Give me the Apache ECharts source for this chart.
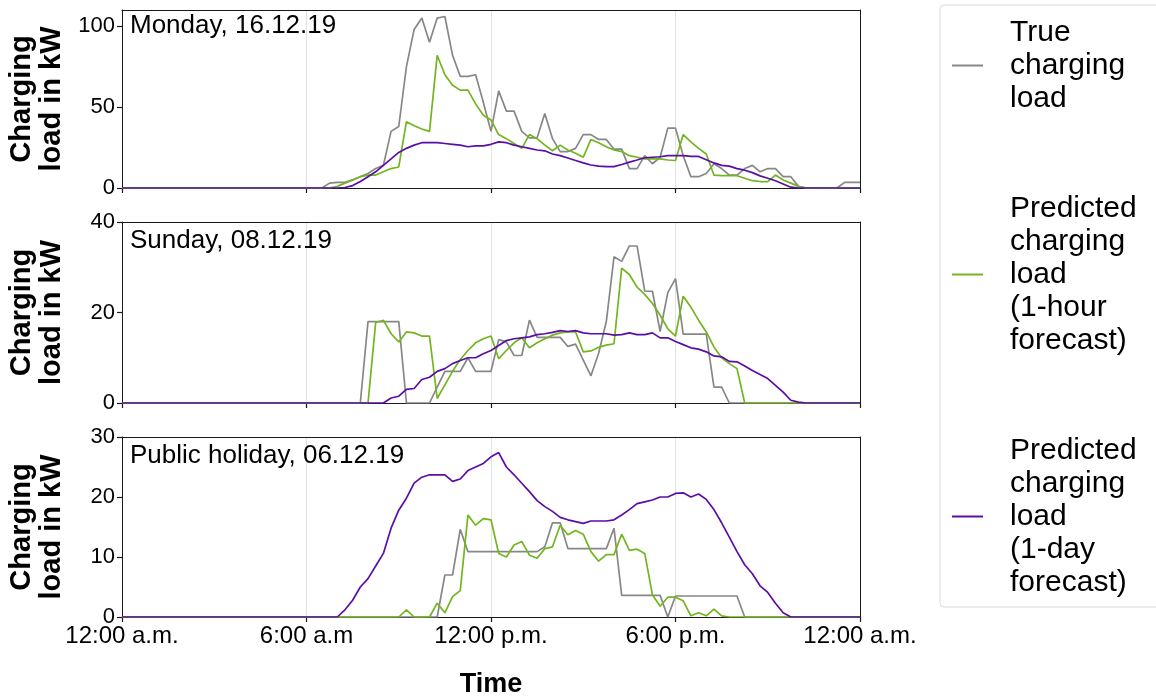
<!DOCTYPE html>
<html>
<head>
<meta charset="utf-8">
<script src="https://cdn.jsdelivr.net/npm/echarts@6/dist/echarts.min.js"></script>
<style>
html,body{margin:0;padding:0;background:#fff;}
#chart{width:1156px;height:697px;}
</style>
</head>
<body>
<div id="chart"></div>
<script>
// time step of the samples (hours), 97 samples from 0:00 to 24:00
const stepHours = 0.25;
const xTickLabels = ['12:00 a.m.', '6:00 a.m', '12:00 p.m.', '6:00 p.m.', '12:00 a.m.'];
const panelTitles = ['Monday, 16.12.19', 'Sunday, 08.12.19', 'Public holiday, 06.12.19'];
const seriesNames = ['True charging load', 'Predicted charging load (1-hour forecast)', 'Predicted charging load (1-day forecast)'];
const legendLabels = ['True\ncharging\nload', 'Predicted\ncharging\nload\n(1-hour\nforecast)', 'Predicted\ncharging\nload\n(1-day\nforecast)'];
const yMax = [110, 40, 30];
const yTicks = [[0, 50, 100], [0, 20, 40], [0, 10, 20, 30]];

// Monday, 16.12.19
const monTrue = [0,0,0,0,0,0,0,0,0,0,0,0,0,0,0,0,0,0,0,0,0,0,0,0,0,0,0,
  3,3.5,3.5,5,7,9,12,14,35,38,75,98,105,90,105,106,82,69,69,70,53,35,60,47.5,47.5,35,31,31,46,30.5,22.5,22.5,24.5,
  33,33,30,30,24,24,12,12,20,15,19,37,37,20,7,7,9,15,12,8,8,12,14,10,12,12,7,7,1,
  0,0,0,0,0,3.5,3.5,3.5];
const monHour = [0,0,0,0,0,0,0,0,0,0,0,0,0,0,0,0,0,0,0,0,0,0,0,0,0,0,0,0,
  1,3,5,7,8,8,10,12,13,41,38.5,36.5,35,82,70,63.5,60.5,60.5,52,45,42,33,30.5,27.5,24.5,33,30.5,26.5,23,26.5,23.5,21.5,
  19,30,28,25.5,23.5,22.5,20,19,18,18,18,17.3,17,33,28.5,24.5,21,8,7.6,7.6,7.6,6,4.5,4,4,8,5,3,1,
  0,0,0,0,0,0,0,0];
const monDay = [0,0,0,0,0,0,0,0,0,0,0,0,0,0,0,0,0,0,0,0,0,0,0,0,0,0,0,0,0,
  0.3,1.5,4,7,10,14,18,22,24.5,26.5,28,28,28,27.5,27,26.5,25.5,26,26,27,28.5,28,26.5,25.5,24.5,23.5,23,
  21,20,18.5,17,15.5,14.2,13.5,13.2,13.2,14.5,16,17.3,18.7,19,19.3,20,20,20,19.5,19.5,17.5,15.5,14,13.5,12,11,9.5,7.5,6,4.5,2.5,0.5,
  0,0,0,0,0,0,0,0,0];

// Sunday, 08.12.19
const sunTrue = [0,0,0,0,0,0,0,0,0,0,0,0,0,0,0,0,0,0,0,0,0,0,0,0,0,0,0,0,0,0,0,0,
  18,18,18,18,18,0,0,0,0,3.5,7,7,7,10,7,7,7,14,13.5,10.5,10.5,18.3,14.5,14.5,14.5,14.5,12.5,13,9.5,6,11,18,
  32.3,31.3,34.7,34.7,24.7,24.7,15.8,24.4,27.5,15.2,15.2,15.2,15.2,3.5,3.5,
  0,0,0,0,0,0,0,0,0,0,0,0,0,0,0,0,0,0];
const sunHour = [0,0,0,0,0,0,0,0,0,0,0,0,0,0,0,0,0,0,0,0,0,0,0,0,0,0,0,0,0,0,0,0,0,
  17.8,18.3,15.3,13.5,15.7,15.5,14.8,14.8,1,4,7,9.6,11.6,13.3,14.2,14.8,9.8,11.6,13.3,14.4,12.2,13.3,14.2,15,15.5,15.7,15.7,
  11.3,11.5,12.3,12.8,13.1,29.8,28.4,25.6,24,22,19.4,16.4,14.8,23.6,21.2,18.3,15.7,12.4,10,8.7,7.6,
  0,0,0,0,0,0,0,0,0,0,0,0,0,0,0,0];
const sunDay = [0,0,0,0,0,0,0,0,0,0,0,0,0,0,0,0,0,0,0,0,0,0,0,0,0,0,0,0,0,0,0,0,0,0,0,
  1.1,1.5,3,3.2,5.2,5.7,7,7.6,8.7,9.4,10,10,10.9,11.6,12.7,13.8,14.2,14.4,14.6,15.1,15.3,15.6,16,15.8,16,
  15.5,15.3,15.3,15.3,15,15.1,15.5,15.1,15.1,15.5,14.4,14.4,13.6,12.9,12.2,11.9,11.3,10.4,10.2,9.2,9.1,8.2,7.2,6.3,5.4,3.9,2.4,0.6,0.2,
  0,0,0,0,0,0,0,0];

// Public holiday, 06.12.19
const holTrue = [0,0,0,0,0,0,0,0,0,0,0,0,0,0,0,0,0,0,0,0,0,0,0,0,0,0,0,0,0,0,0,0,0,0,0,0,0,0,0,0,0,0,
  7,7,14.6,10.9,10.9,10.9,10.9,10.9,10.9,10.9,10.9,10.9,10.9,11.7,15.7,15.7,11.4,11.4,11.4,11.4,11.4,11.4,
  14.8,3.6,3.6,3.6,3.6,3.6,3.6,0,3.5,3.5,3.5,3.5,3.5,3.5,3.5,3.5,3.5,
  0,0,0,0,0,0,0,0,0,0,0,0,0,0,0,0];
const holHour = [0,0,0,0,0,0,0,0,0,0,0,0,0,0,0,0,0,0,0,0,0,0,0,0,0,0,0,0,0,0,0,0,0,0,0,0,0,
  1.2,0,0,0,2.3,0.7,3.4,4.4,17,15.3,16.4,16.2,10.6,10,12,12.6,10.3,9.8,11.4,11.7,15.3,13.7,14.4,
  13.8,10.9,9.3,10.4,10.4,13.8,11.1,11.3,10.6,3.7,1.8,3.3,3.3,2.7,0.2,0.7,0.2,1.3,0.2,
  0,0,0,0,0,0,0,0,0,0,0,0,0,0,0,0,0,0];
const holDay = [0,0,0,0,0,0,0,0,0,0,0,0,0,0,0,0,0,0,0,0,0,0,0,0,0,0,0,0,0,
  1.2,2.8,5,6.4,8.5,10.6,14.8,17.8,19.8,22.3,23.3,23.7,23.7,23.7,22.6,23,24.4,25,25.6,26.7,27.4,25,23.7,22.3,20.9,19.4,18.4,17.6,16.6,16.2,15.9,
  15.6,16,16,16,16.2,17,17.9,18.9,19.2,19.5,20,20,20.6,20.7,20,20.5,19.6,17.9,15.7,13.3,10.9,8.7,7.2,5.2,4.1,2.3,0.7,
  0,0,0,0,0,0,0,0,0,0];

const panels = [[monTrue, monHour, monDay], [sunTrue, sunHour, sunDay], [holTrue, holHour, holDay]];
const colors = ['#878787', '#72b51f', '#5b0ea6'];

const FONT = 'Liberation Sans, Arial, sans-serif';
const gridDefs = [
  {left: 122, width: 738, top: 10, height: 178},
  {left: 122, width: 738, top: 222, height: 181},
  {left: 122, width: 738, top: 437, height: 180}
];
const titleCenters = [27, 242, 457];

const toPairs = arr => arr.map((v, i) => [i * stepHours, v]);
const spine = {show: true, onZero: false, lineStyle: {color: '#1a1a1a', width: 1}};

const xMain = gridDefs.map((g, k) => ({
  type: 'value', gridIndex: k, min: 0, max: 24, interval: 6, position: 'bottom',
  axisLine: spine,
  axisTick: {show: true, inside: false, length: 5, lineStyle: {color: '#1a1a1a', width: 1.2}},
  splitLine: {show: true, lineStyle: {color: '#e2e2e2', width: 1}},
  axisLabel: {
    show: k === 2, margin: 7, fontFamily: FONT, fontSize: 24, color: '#000',
    formatter: v => xTickLabels[Math.round(v / 6)],
    showMinLabel: true, showMaxLabel: true
  },
  name: k === 2 ? 'Time' : '',
  nameLocation: 'middle', nameGap: 54,
  nameTextStyle: {fontFamily: FONT, fontSize: 27, fontWeight: 'bold', color: '#000'}
}));
const xTop = gridDefs.map((g, k) => ({
  type: 'value', gridIndex: k, min: 0, max: 24, position: 'top',
  axisLine: spine, axisTick: {show: false}, axisLabel: {show: false}, splitLine: {show: false}
}));
const yMain = gridDefs.map((g, k) => ({
  type: 'value', gridIndex: k, min: 0, max: yMax[k], position: 'left',
  axisLine: spine,
  axisTick: {show: true, length: 5, lineStyle: {color: '#1a1a1a', width: 1.2}, customValues: yTicks[k]},
  splitLine: {show: false},
  axisLabel: {margin: 7, fontFamily: FONT, fontSize: 22, color: '#000', customValues: yTicks[k]},
  name: 'Charging\nload in kW',
  nameLocation: 'middle', nameGap: 55, nameRotate: 90,
  nameTextStyle: {fontFamily: FONT, fontSize: 29, fontWeight: 'bold', color: '#000', lineHeight: 30}
}));
const yRight = gridDefs.map((g, k) => ({
  type: 'value', gridIndex: k, min: 0, max: yMax[k], position: 'right',
  axisLine: spine, axisTick: {show: false}, axisLabel: {show: false}, splitLine: {show: false}
}));

const option = {
  animation: false,
  backgroundColor: '#fff',
  title: panelTitles.map((t, k) => ({
    text: t, left: 130, top: titleCenters[k] - 14, padding: 0,
    textStyle: {fontFamily: FONT, fontSize: 26, fontWeight: 'normal', color: '#000'}
  })),
  legend: {
    orient: 'vertical', left: 940, top: 5,
    padding: [11, 40, 8, 12],
    itemGap: 77, itemWidth: 31, itemHeight: 2, icon: 'rect',
    backgroundColor: '#fff', borderColor: '#d9d9d9', borderWidth: 1, borderRadius: 4,
    data: seriesNames,
    formatter: name => legendLabels[seriesNames.indexOf(name)],
    textStyle: {fontFamily: FONT, fontSize: 30, lineHeight: 33, color: '#000', padding: [0, 0, 0, 22]}
  },
  grid: gridDefs.map(g => Object.assign({show: false, containLabel: false, outerBoundsMode: 'none'}, g)),
  xAxis: xMain.concat(xTop),
  yAxis: yMain.concat(yRight),
  series: []
};

panels.forEach((panel, k) => {
  panel.forEach((vals, s) => {
    option.series.push({
      type: 'line', name: seriesNames[s], xAxisIndex: k, yAxisIndex: k,
      data: toPairs(vals), symbol: 'none', showSymbol: false,
      lineStyle: {color: colors[s], width: 1.7}, itemStyle: {color: colors[s]},
      z: 2 + s
    });
  });
});

const chart = echarts.init(document.getElementById('chart'), null, {renderer: 'canvas'});
chart.setOption(option);
</script>
</body>
</html>
